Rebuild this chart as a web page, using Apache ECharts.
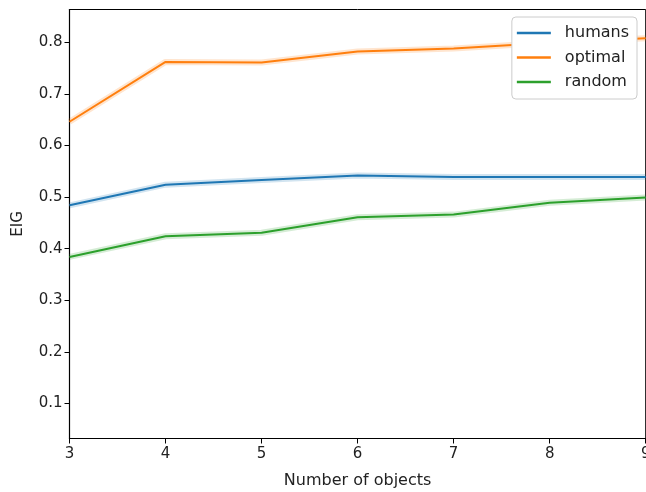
<!DOCTYPE html>
<html>
<head>
<meta charset="utf-8">
<script src="https://cdn.jsdelivr.net/npm/echarts@6/dist/echarts.min.js"></script>
<style>html,body{margin:0;padding:0;background:#fff}#c{width:646px;height:492px}</style>
</head>
<body>
<div id="c"></div>
<script>
const objects = [3, 4, 5, 6, 7, 8, 9];
const humans = [0.484, 0.524, 0.533, 0.542, 0.539, 0.539, 0.539];
const optimal = [0.646, 0.762, 0.761, 0.782, 0.788, 0.799, 0.808];
const random = [0.384, 0.424, 0.431, 0.461, 0.466, 0.489, 0.499];
const yTicks = [0.1, 0.2, 0.3, 0.4, 0.5, 0.6, 0.7, 0.8];
const xTicks = [3, 4, 5, 6, 7, 8, 9];

const colors = { humans: '#1f77b4', optimal: '#ff7f0e', random: '#2ca02c' };
const font = 'DejaVu Sans';
const pairs = arr => objects.map((x, i) => [x, arr[i]]);

function mainSeries(name, arr) {
  return {
    name, type: 'line', data: pairs(arr), symbol: 'none', z: 3,
    lineStyle: { color: colors[name], width: 2 }, itemStyle: { color: colors[name] }
  };
}
function bandSeries(name, arr) {
  return {
    name: name + '_band', type: 'line', data: pairs(arr), symbol: 'none', z: 2,
    silent: true,
    lineStyle: { color: colors[name], width: 6, opacity: 0.2 }
  };
}

const chart = echarts.init(document.getElementById('c'), null, { renderer: 'canvas' });
chart.setOption({
  animation: false,
  backgroundColor: '#fff',
  grid: { left: 69.5, right: 0.3, top: 9.5, bottom: 53.5, containLabel: false, outerBoundsMode: 'none',
    show: true, borderColor: '#000', borderWidth: 1, backgroundColor: 'transparent' },
  xAxis: {
    type: 'value', min: 3, max: 9, interval: 1,
    name: 'Number of objects', nameLocation: 'middle', nameGap: 34,
    nameTextStyle: { fontFamily: font, fontSize: 16, color: '#222' },
    axisLine: { lineStyle: { color: '#000', width: 1.2 } },
    axisTick: { show: true, length: 5, lineStyle: { color: '#000' }, customValues: xTicks },
    axisLabel: { fontFamily: font, fontSize: 15, color: '#222', margin: 8, customValues: xTicks, hideOverlap: false },
    splitLine: { show: false }
  },
  yAxis: {
    type: 'value', min: 0.032, max: 0.8636,
    name: 'EIG', nameLocation: 'middle', nameGap: 44,
    nameTextStyle: { fontFamily: font, fontSize: 15, color: '#222' },
    axisLine: { show: true, lineStyle: { color: '#000', width: 1.2 } },
    axisTick: { show: true, length: 5, lineStyle: { color: '#000' }, customValues: yTicks },
    axisLabel: { fontFamily: font, fontSize: 15, color: '#222', margin: 7, customValues: yTicks,
      formatter: v => (Math.round(v * 10) / 10).toFixed(1) },
    splitLine: { show: false }
  },
  legend: {
    data: ['humans', 'optimal', 'random'],
    orient: 'vertical', right: 9, top: 17,
    backgroundColor: '#fff', borderColor: '#ccc', borderWidth: 1, borderRadius: 4,
    padding: [8, 8, 9, 5],
    itemGap: 8.5, itemWidth: 34, itemHeight: 2.5, icon: 'rect',
    textStyle: { fontFamily: font, fontSize: 16, color: '#222', padding: [0, 0, 0, 9] }
  },
  series: [
    bandSeries('humans', humans), bandSeries('optimal', optimal), bandSeries('random', random),
    mainSeries('humans', humans), mainSeries('optimal', optimal), mainSeries('random', random)
  ]
});
</script>
</body>
</html>
